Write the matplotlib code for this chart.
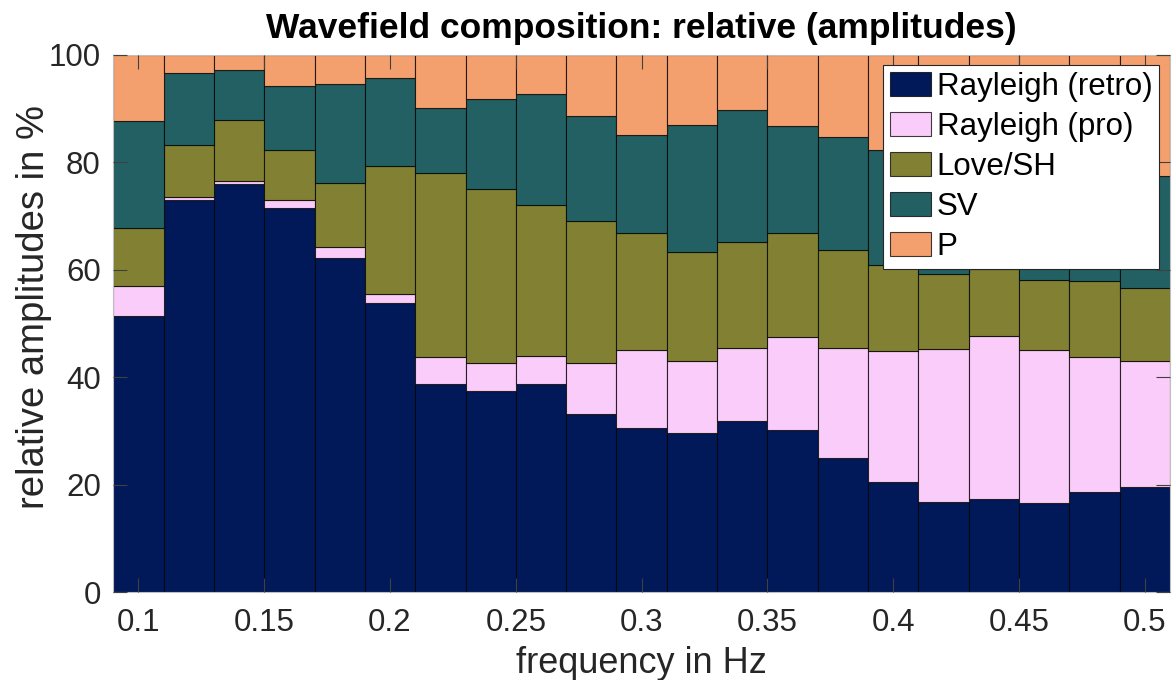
import matplotlib
matplotlib.use("Agg")
import matplotlib.pyplot as plt
import numpy as np

freqs = [0.10, 0.12, 0.14, 0.16, 0.18, 0.20, 0.22, 0.24, 0.26, 0.28, 0.30,
         0.32, 0.34, 0.36, 0.38, 0.40, 0.42, 0.44, 0.46, 0.48, 0.50]
rayleigh_retro = [51.3, 73.0, 76.0, 71.5, 62.1, 53.8, 38.8, 37.5, 38.7, 33.2, 30.5,
                  29.7, 31.9, 30.1, 24.9, 20.5, 16.7, 17.4, 16.6, 18.7, 19.5]
rayleigh_pro = [5.6, 0.5, 0.4, 1.4, 2.1, 1.7, 4.9, 5.1, 5.3, 9.5, 14.5,
                13.3, 13.6, 17.4, 20.6, 24.4, 28.5, 30.3, 28.4, 25.0, 23.6]
love_sh = [10.8, 9.7, 11.5, 9.3, 11.9, 23.8, 34.3, 32.4, 28.1, 26.3, 21.8,
           20.3, 19.7, 19.3, 18.1, 16.0, 14.0, 12.4, 13.1, 14.2, 13.5]
sv = [20.0, 13.4, 9.3, 12.0, 18.4, 16.4, 12.1, 16.8, 20.6, 19.6, 18.2,
      23.6, 24.4, 19.9, 21.1, 21.3, 20.8, 22.9, 20.9, 22.1, 20.9]
p_wave = [12.3, 3.4, 2.8, 5.8, 5.5, 4.3, 9.9, 8.2, 7.3, 11.4, 15.0,
          13.1, 10.4, 13.3, 15.3, 17.8, 20.0, 17.0, 21.0, 20.0, 22.5]

labels = ["Rayleigh (retro)", "Rayleigh (pro)", "Love/SH", "SV", "P"]
colors = ["#011959", "#FACCFA", "#828133", "#236063", "#F3A06E"]
xticks = [0.1, 0.15, 0.2, 0.25, 0.3, 0.35, 0.4, 0.45, 0.5]
xticklabels = ["0.1", "0.15", "0.2", "0.25", "0.3", "0.35", "0.4", "0.45", "0.5"]
yticks = [0, 20, 40, 60, 80, 100]

plt.rcParams['font.family'] = ['Liberation Sans', 'DejaVu Sans']

fig = plt.figure(figsize=(11.72, 6.80), dpi=100)
ax = fig.add_axes([113.3/1172, 1-592.3/680, (1170-113.3)/1172, (592.3-54.5)/680])

series = [rayleigh_retro, rayleigh_pro, love_sh, sv, p_wave]
bottom = np.zeros(len(freqs))
for vals, lab, col in zip(series, labels, colors):
    vals = np.asarray(vals)
    ax.bar(freqs, vals, width=0.02, bottom=bottom, color=col, label=lab,
           edgecolor=(0, 0, 0, 0.75), linewidth=0.8)
    bottom = bottom + vals

ax.set_xlim(0.09, 0.51)
ax.set_ylim(0, 100)
ax.set_xticks(xticks)
ax.set_xticklabels(xticklabels)
ax.set_yticks(yticks)
ax.tick_params(axis='both', direction='in', length=10, width=0.8, color='#404040',
               labelsize=22.5, labelcolor='#262626', top=True, right=True)
ax.tick_params(axis='x', pad=11)
ax.tick_params(axis='y', pad=9)
ax.set_axisbelow(False)
for s in ax.spines.values():
    s.set_color('#bfbfbf')
    s.set_linewidth(0.8)

ax.set_title("Wavefield composition: relative (amplitudes)", fontsize=25.5,
             fontweight='bold', pad=12)
ax.set_ylabel("relative amplitudes in %", fontsize=27.5, color='#262626')
ax.yaxis.set_label_coords(-0.058, 0.53)
ax.set_xlabel("frequency in Hz", fontsize=26, color='#262626', labelpad=6)

leg = ax.legend(loc='upper left', bbox_to_anchor=(883/1172, 1-65/680),
                bbox_transform=fig.transFigure, fontsize=22.5, fancybox=False,
                framealpha=1, edgecolor='#262626', borderpad=0.22,
                handlelength=1.3, handleheight=0.8, handletextpad=0.2,
                labelspacing=0.32, borderaxespad=0)
leg.get_frame().set_linewidth(0.8)

fig.savefig("out.png", dpi=100)
